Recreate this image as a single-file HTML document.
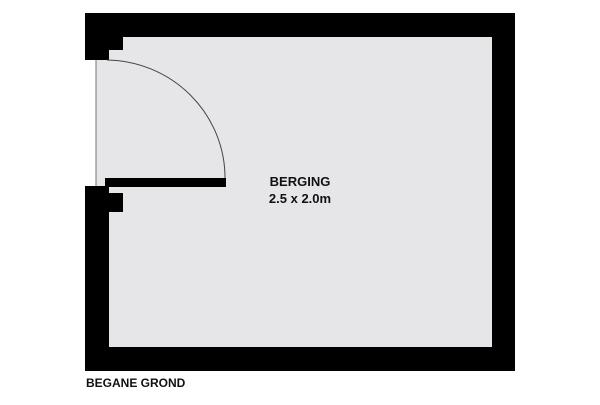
<!DOCTYPE html>
<html><head><style>body{margin:0;background:#fff}</style></head><body>
<svg width="600" height="400" viewBox="0 0 600 400" xmlns="http://www.w3.org/2000/svg">
<rect x="85" y="13" width="430" height="358" fill="#000"/>
<rect x="109" y="37" width="383" height="310" fill="#e6e6e8"/>
<rect x="85" y="37" width="38" height="13" fill="#000"/>
<rect x="85" y="60" width="24" height="126" fill="#e6e6e8"/>
<rect x="85" y="60" width="11" height="126" fill="#fff"/>
<line x1="96" y1="60" x2="96" y2="186" stroke="#777" stroke-width="1"/>
<rect x="109" y="193" width="14" height="19" fill="#000"/>
<rect x="105" y="178" width="121" height="9" fill="#000"/>
<path d="M107 60 A120 118 0 0 1 225 178" fill="none" stroke="#444" stroke-width="1"/>
<g font-family="Liberation Sans, sans-serif" font-weight="bold" fill="#111">
<text x="300" y="186" font-size="13" text-anchor="middle">BERGING</text>
<text x="300" y="203" font-size="13" text-anchor="middle">2.5 x 2.0m</text>
<text x="86" y="387" font-size="12">BEGANE GROND</text>
</g>
</svg>
</body></html>
